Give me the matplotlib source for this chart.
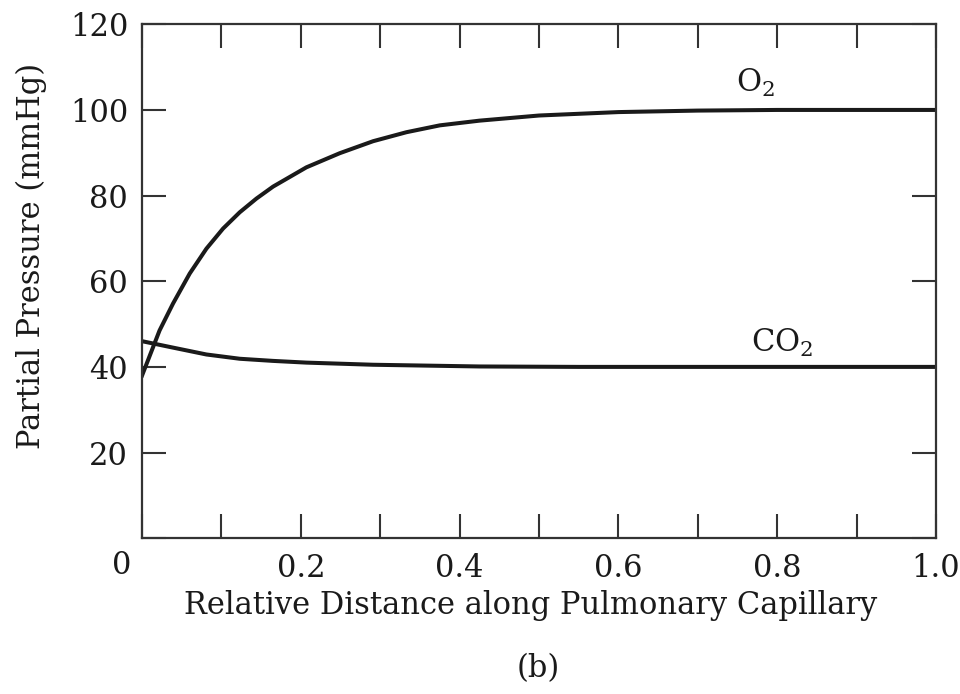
import matplotlib
matplotlib.use("Agg")
import matplotlib.pyplot as plt
from matplotlib.ticker import MultipleLocator

# values
dist_o2 = [0.0, 0.022, 0.039, 0.060, 0.081, 0.102, 0.123, 0.144, 0.165, 0.207,
           0.249, 0.291, 0.333, 0.375, 0.425, 0.5, 0.6, 0.7, 0.8, 1.0]
po2 = [38.0, 48.5, 54.8, 61.8, 67.6, 72.3, 76.1, 79.3, 82.1, 86.6,
       89.9, 92.7, 94.8, 96.4, 97.5, 98.7, 99.5, 99.85, 100.0, 100.0]

dist_co2 = [0.0, 0.039, 0.081, 0.123, 0.165, 0.207, 0.291, 0.425, 0.55, 0.7, 1.0]
pco2 = [46.0, 44.5, 42.9, 41.9, 41.4, 41.0, 40.5, 40.1, 40.0, 40.0, 40.0]

xtick_vals = [0.0, 0.2, 0.4, 0.6, 0.8, 1.0]
xtick_labels = ["", "0.2", "0.4", "0.6", "0.8", "1.0"]
ytick_vals = [0, 20, 40, 60, 80, 100, 120]
ytick_labels = ["", "20", "40", "60", "80", "100", "120"]

plt.rcParams['font.family'] = ['DejaVu Serif']
plt.rcParams['mathtext.fontset'] = 'dejavuserif'
fs = 22

fig = plt.figure(figsize=(9.6, 6.94), dpi=100)
ax = fig.add_axes([0.148, 0.2245, 0.827, 0.7405])

ax.plot(dist_o2, po2, color='#1a1a1a', lw=2.9, solid_joinstyle='round')
ax.plot(dist_co2, pco2, color='#1a1a1a', lw=2.9, solid_joinstyle='round')

ax.set_xlim(0, 1.0)
ax.set_ylim(0, 120)
ax.set_xticks(xtick_vals)
ax.set_xticklabels(xtick_labels)
ax.set_yticks(ytick_vals)
ax.set_yticklabels(ytick_labels)
ax.xaxis.set_minor_locator(MultipleLocator(0.1))

ax.tick_params(which='both', direction='in', top=True, right=True,
               length=17, width=1.5, color='#333333', labelsize=fs,
               labelcolor='#1a1a1a')
ax.tick_params(axis='x', which='both', pad=11)
ax.tick_params(axis='y', which='both', pad=10)
for s in ax.spines.values():
    s.set_linewidth(1.6)
    s.set_color('#333333')

# shared origin label
ax.annotate("0", xy=(0, 0), xytext=(-15, -20), textcoords='offset points',
            ha='center', va='center', fontsize=fs, color='#1a1a1a')

ax.text(0.772, 106.4, r"O$_2$", fontsize=fs, ha='center', va='center', color='#1a1a1a')
ax.text(0.806, 45.7, r"CO$_2$", fontsize=fs, ha='center', va='center', color='#1a1a1a')

ax.set_xlabel("Relative Distance along Pulmonary Capillary", fontsize=fs,
              color='#1a1a1a')
ax.xaxis.set_label_coords(0.489, -0.1)
ax.set_ylabel("Partial Pressure (mmHg)", fontsize=fs, color='#1a1a1a')
ax.yaxis.set_label_coords(-0.12, 0.55)
fig.text(0.561, 0.036, "(b)", fontsize=fs, ha='center', va='center', color='#1a1a1a')

fig.savefig("out.png", dpi=100)
